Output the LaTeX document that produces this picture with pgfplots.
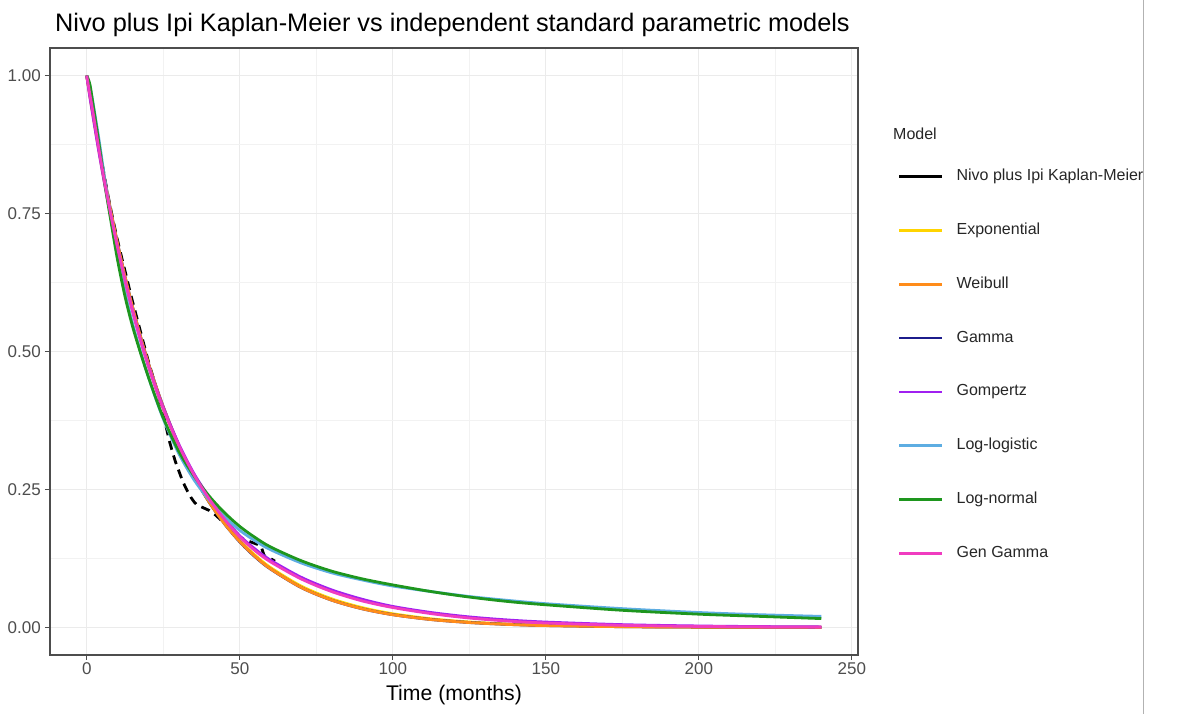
\documentclass[border=0pt]{standalone}
\usepackage{fontspec}
\setmainfont{Liberation Sans}
\usepackage{pgfplots}
\usepackage{pgfplotstable}
\pgfplotsset{compat=1.18}
\definecolor{cExp}{HTML}{FFD400}
\definecolor{cWei}{HTML}{FF8C1A}
\definecolor{cGam}{HTML}{1C1C8C}
\definecolor{cGom}{HTML}{A020F0}
\definecolor{cLlo}{HTML}{5DADE2}
\definecolor{cLno}{HTML}{1E961E}
\definecolor{cGen}{HTML}{F03CC0}
\definecolor{tickgray}{HTML}{4D4D4D}
\definecolor{gridmaj}{HTML}{EBEBEB}
\definecolor{gridmin}{HTML}{F2F2F2}

\pgfplotstableread{
t     exp     weib    gam     gomp    llog   lnorm  ggam
0     1.0000  1.0000  1.000   1.000   1.000  1.000  1.000
1     0.9637  0.9662  0.968   0.962   0.982  0.985  0.967
2     0.9287  0.9326  0.935   0.928   0.952  0.950  0.935
4     0.8625  0.8680  0.869   0.861   0.884  0.877  0.866
6     0.8009  0.8073  0.808   0.799   0.808  0.800  0.802
8     0.7438  0.7505  0.751   0.742   0.740  0.733  0.744
10    0.6907  0.6974  0.698   0.689   0.675  0.668  0.690
12.5  0.6298  0.6360  0.636   0.628   0.607  0.600  0.629
15    0.5743  0.5799  0.580   0.573   0.550  0.545  0.573
18    0.5137  0.5187  0.519   0.513   0.492  0.490  0.512
21    0.4596  0.4639  0.464   0.460   0.440  0.440  0.459
25    0.3966  0.3995  0.400   0.398   0.378  0.380  0.396
30    0.3296  0.3312  0.331   0.333   0.316  0.320  0.331
35    0.2739  0.2744  0.274   0.279   0.268  0.275  0.277
40    0.2276  0.2272  0.227   0.236   0.231  0.238  0.233
45    0.1892  0.1880  0.188   0.198   0.201  0.208  0.196
50    0.1572  0.1556  0.155   0.166   0.176  0.183  0.164
55    0.1307  0.1287  0.128   0.142   0.157  0.163  0.139
60    0.1086  0.1063  0.106   0.122   0.141  0.146  0.119
70    0.0750  0.0726  0.0725  0.091   0.117  0.121  0.088
80    0.0518  0.0495  0.0495  0.068   0.099  0.102  0.065
90    0.0358  0.0338  0.0338  0.051   0.086  0.088  0.048
100   0.0247  0.0230  0.0231  0.038   0.075  0.077  0.036
112.5 0.0156  0.0142  0.0143  0.027   0.065  0.065  0.025
125   0.0098  0.0088  0.0089  0.019   0.056  0.055  0.017
137.5 0.0062  0.0054  0.0055  0.0135  0.049  0.047  0.0115
150   0.0039  0.0033  0.0034  0.0097  0.043  0.041  0.0080
175   0.0015  0.0013  0.0013  0.0050  0.034  0.031  0.0038
200   0.0006  0.0005  0.0005  0.0026  0.027  0.024  0.0018
220   0.0003  0.0002  0.0002  0.0015  0.023  0.020  0.0010
240   0.0001  0.0001  0.0001  0.0009  0.020  0.016  0.0006
}\models

\pgfplotstableread{
t    s
0    1.000
1    0.972
2    0.940
3    0.907
4    0.874
5    0.842
6    0.811
7    0.781
8    0.754
9    0.728
10   0.703
11   0.680
12   0.657
13   0.635
14   0.612
15   0.590
16   0.569
17   0.548
18   0.527
19   0.506
20   0.485
21   0.466
22   0.447
23   0.428
24   0.409
25   0.390
26   0.362
27   0.338
28   0.318
29   0.300
30   0.285
31   0.270
32   0.257
33   0.246
34   0.236
35   0.228
36   0.222
38   0.217
40   0.212
42   0.204
44   0.194
46   0.182
48   0.171
50   0.163
52   0.158
54   0.154
56   0.150
57   0.146
58   0.130
60   0.125
61.5 0.120
}\km

\begin{document}
\begin{tikzpicture}
\useasboundingbox (0bp,0bp) rectangle (1179bp,714bp);
\begin{axis}[
  at={(50bp,59bp)}, anchor=south west,
  scale only axis, width=808bp, height=607bp,
  xmin=-12, xmax=252, ymin=-0.05, ymax=1.05,
  xtick={0,50,100,150,200,250},
  ytick={0,0.25,0.5,0.75,1},
  minor xtick={25,75,125,175,225},
  minor ytick={0.125,0.375,0.625,0.875},
  grid=both,
  major grid style={draw=gridmaj, line width=1.2bp},
  minor grid style={draw=gridmin, line width=0.7bp},
  axis line style={draw=tickgray, line width=1.1bp},
  tick align=outside,
  major tick length=5bp, minor tick length=0bp,
  tick style={draw=tickgray, line width=1.1bp},
  xtick pos=bottom, ytick pos=left,
  /pgf/number format/assume math mode=true,
  tick label style={font=\fontsize{17bp}{20bp}\selectfont, text=tickgray},
  yticklabel style={anchor=east, inner sep=0pt, xshift=-4bp,
    /pgf/number format/.cd, fixed, fixed zerofill, precision=2},
  xticklabel style={anchor=north, inner sep=0pt, yshift=-2bp},
  xlabel={Time (months)},
  xlabel style={at={(axis description cs:0.5,0)}, anchor=base, inner sep=0pt, yshift=-45bp,
    font=\fontsize{21.2bp}{25bp}\selectfont},
  legend cell align=left,
  legend image code/.code={\draw[#1, solid, line width=2.6bp] (0bp,0bp) -- (43bp,0bp);},
  legend style={at={(1.0495,0.8003)}, anchor=north west, draw=none, fill=none,
    inner sep=0pt, outer sep=0pt, row sep=38.8bp,
    font=\fontsize{16bp}{19bp}\selectfont,
    nodes={inner sep=0pt, text height=11.5bp, text depth=3.5bp, text=black!85},
    /tikz/every odd column/.style={column sep=13bp}},
  every axis plot/.append style={line width=2.8bp},
]
\addlegendimage{black}
\addlegendentry{Nivo plus Ipi Kaplan-Meier}
\addlegendimage{cExp}
\addlegendentry{Exponential}
\addlegendimage{cWei}
\addlegendentry{Weibull}
\addlegendimage{cGam}
\addlegendentry{Gamma}
\addlegendimage{cGom}
\addlegendentry{Gompertz}
\addlegendimage{cLlo}
\addlegendentry{Log-logistic}
\addlegendimage{cLno}
\addlegendentry{Log-normal}
\addlegendimage{cGen}
\addlegendentry{Gen Gamma}

\addplot[forget plot, black, dash pattern=on 9bp off 6bp, line width=2.8bp] table[x=t, y=s] {\km};
\addplot[forget plot, cExp, smooth, tension=0.5] table[x=t, y=exp] {\models};
\addplot[forget plot, cGam, smooth, tension=0.5] table[x=t, y=gam] {\models};
\addplot[forget plot, cWei, smooth, tension=0.5] table[x=t, y=weib] {\models};
\addplot[forget plot, cGom, smooth, tension=0.5] table[x=t, y=gomp] {\models};
\addplot[forget plot, cLlo, smooth, tension=0.5] table[x=t, y=llog] {\models};
\addplot[forget plot, cLno, smooth, tension=0.5] table[x=t, y=lnorm] {\models};
\addplot[forget plot, cGen, smooth, tension=0.5] table[x=t, y=ggam] {\models};
\end{axis}
\node[anchor=base west, inner sep=0pt, font=\fontsize{25.3bp}{30bp}\selectfont] at (55bp,682bp)
  {Nivo plus Ipi Kaplan-Meier vs independent standard parametric models};
\node[anchor=base west, inner sep=0pt, font=\fontsize{16bp}{19bp}\selectfont, text=black!85] at (893bp,574bp) {Model};
\draw[draw=black!30, line width=1bp] (1143bp,0bp) -- (1143bp,714bp);
\end{tikzpicture}
\end{document}
